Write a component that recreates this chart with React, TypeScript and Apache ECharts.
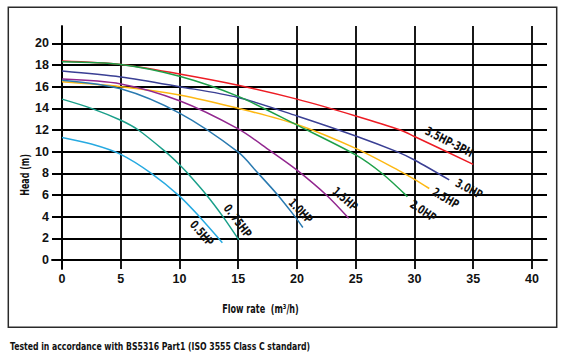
import React, { useEffect, useRef } from "react";
import * as echarts from "echarts";

const FONT = '"Liberation Sans Narrow", "DejaVu Sans Condensed", "Roboto Condensed", "Liberation Sans", sans-serif';
const TICK_FONT = '"Liberation Sans", Arial, sans-serif';

// Curve names (label texts) and colours
const curveNames = ["3.5HP-3PH", "3.0HP", "2.5HP", "2.0HP", "1.5HP", "1.0HP", "0. 75HP", "0.5HP"];
const curveColors = ["#ed1c24", "#3a3f94", "#fdb813", "#1fa04a", "#92278f", "#2a7ab0", "#1a9f8a", "#27aae1"];

// [flow m3/h, head m]
const hp35_3ph: [number, number][] = [[0, 18.37], [5, 18.05], [10, 17.17], [15, 16.13], [20, 14.85], [25, 13.3], [28.8, 12.0], [30, 11.4], [35, 8.83]];
const hp30: [number, number][] = [[0, 17.45], [5, 16.9], [10, 16.0], [15, 15.0], [20, 13.3], [25, 11.45], [28.5, 10.0], [30, 9.23], [32.96, 7.39]];
const hp25: [number, number][] = [[0, 16.45], [5, 16.0], [10, 15.24], [15, 14.0], [20, 12.5], [25, 10.3], [28.6, 8.3], [30, 7.45], [31.26, 6.6]];
const hp20: [number, number][] = [[0, 18.3], [5, 18.05], [10, 16.96], [15, 15.1], [20, 12.45], [25, 9.7], [27.3, 7.94], [29.4, 5.85]];
const hp15: [number, number][] = [[0, 16.7], [5, 16.25], [10, 14.7], [15, 12.1], [17.7, 10.1], [20, 8.3], [22.5, 6.0], [24.4, 3.85]];
const hp10: [number, number][] = [[0, 16.6], [5, 15.8], [10, 13.55], [15, 9.95], [16.7, 8.0], [18.36, 6.0], [19.83, 4.0], [20.5, 3.0]];
const hp075: [number, number][] = [[0, 14.85], [2.5, 14.0], [5, 12.9], [6.5, 12.0], [8.8, 10.0], [10, 8.8], [10.7, 8.0], [12.3, 6.0], [13.7, 4.0], [15.05, 1.85]];
const hp05: [number, number][] = [[0, 11.3], [2.5, 10.7], [5, 9.75], [7.6, 8.0], [10, 5.9], [11.7, 4.0], [13.65, 1.6]];

const curveData = [hp35_3ph, hp30, hp25, hp20, hp15, hp10, hp075, hp05];

const yAxisTitle = "Head (m)";
const xAxisTitle = "Flow rate  (m\u00b3/h)";
const footnote = "Tested in accordance with BS5316 Part1 (ISO 3555 Class C standard)";

// label placement (pixel centre and rotation in degrees, clockwise)
const labelLayout: [number, number, number][] = [
  [449, 142, 27],
  [469, 189, 28],
  [445.5, 198.3, 31],
  [423, 211, 34],
  [345, 199, 41],
  [300.5, 211, 46],
  [237.5, 221, 53],
  [201.7, 233.3, 49],
];

export default function App() {
  const ref = useRef<HTMLDivElement>(null);
  useEffect(() => {
    if (!ref.current) return;
    const chart = echarts.init(ref.current, undefined, { renderer: "svg" });
    const gridLine = { color: "#000", width: 1.8 };
    const labelStyle = { color: "#111", fontSize: 12.5, fontWeight: "bold" as const, fontFamily: TICK_FONT };
    const txt = (text: string, size: number) => ({
      text,
      fontFamily: FONT,
      fontSize: size,
      fontWeight: "bold",
      fill: "#111",
      align: "center",
      verticalAlign: "middle",
    });
    const option: any = {
      animation: false,
      backgroundColor: "#fff",
      textStyle: { fontFamily: FONT },
      grid: { left: 52, right: 17, top: 26, bottom: 88, containLabel: false },
      xAxis: {
        type: "value",
        min: -0.851,
        max: 41.28,
        splitNumber: 5,
        minInterval: 5,
        maxInterval: 5,
        axisLine: { show: true, onZero: true, lineStyle: gridLine },
        axisTick: { show: false },
        axisLabel: { ...labelStyle, margin: 3, showMinLabel: false, showMaxLabel: false },
        splitLine: { show: true, showMinLine: false, showMaxLine: false, lineStyle: gridLine },
      },
      yAxis: {
        type: "value",
        min: -0.831,
        max: 21.6,
        splitNumber: 5,
        minInterval: 2,
        maxInterval: 2,
        axisLine: { show: true, onZero: true, lineStyle: gridLine },
        axisTick: { show: false },
        axisLabel: { ...labelStyle, margin: 3, showMinLabel: false, showMaxLabel: false },
        splitLine: { show: true, showMinLine: false, showMaxLine: false, lineStyle: gridLine },
      },
      series: curveData.map((d, i) => ({
        type: "line",
        name: curveNames[i],
        data: d,
        smooth: 0.3,
        symbol: "none",
        lineStyle: { color: curveColors[i], width: 1.5 },
        z: 3,
      })),
      graphic: [
        {
          type: "rect",
          shape: { x: 8.3, y: 7.3, width: 548.4, height: 320 },
          style: { fill: "none", stroke: "#2a2a2a", lineWidth: 1.5 },
          silent: true,
        },
        {
          type: "text",
          x: 24,
          y: 175,
          rotation: Math.PI / 2,
          scaleX: 0.74,
          style: txt(yAxisTitle, 12),
        },
        {
          type: "text",
          x: 260.5,
          y: 308,
          scaleX: 0.75,
          style: txt(xAxisTitle, 12),
        },
        {
          type: "text",
          x: 10,
          y: 346.5,
          scaleX: 0.82,
          style: { ...txt(footnote, 10.5), align: "left" },
        },
        ...curveNames.map((name, i) => ({
          type: "text",
          x: labelLayout[i][0],
          y: labelLayout[i][1],
          rotation: (-labelLayout[i][2] * Math.PI) / 180,
          scaleX: 0.8,
          z: 10,
          style: txt(name, 12),
        })),
      ],
    };
    chart.setOption(option);
    return () => chart.dispose();
  }, []);
  return (
    <div
      ref={ref}
      style={{ position: "fixed", left: 0, top: 0, width: 564, height: 357, background: "#fff" }}
    />
  );
}
